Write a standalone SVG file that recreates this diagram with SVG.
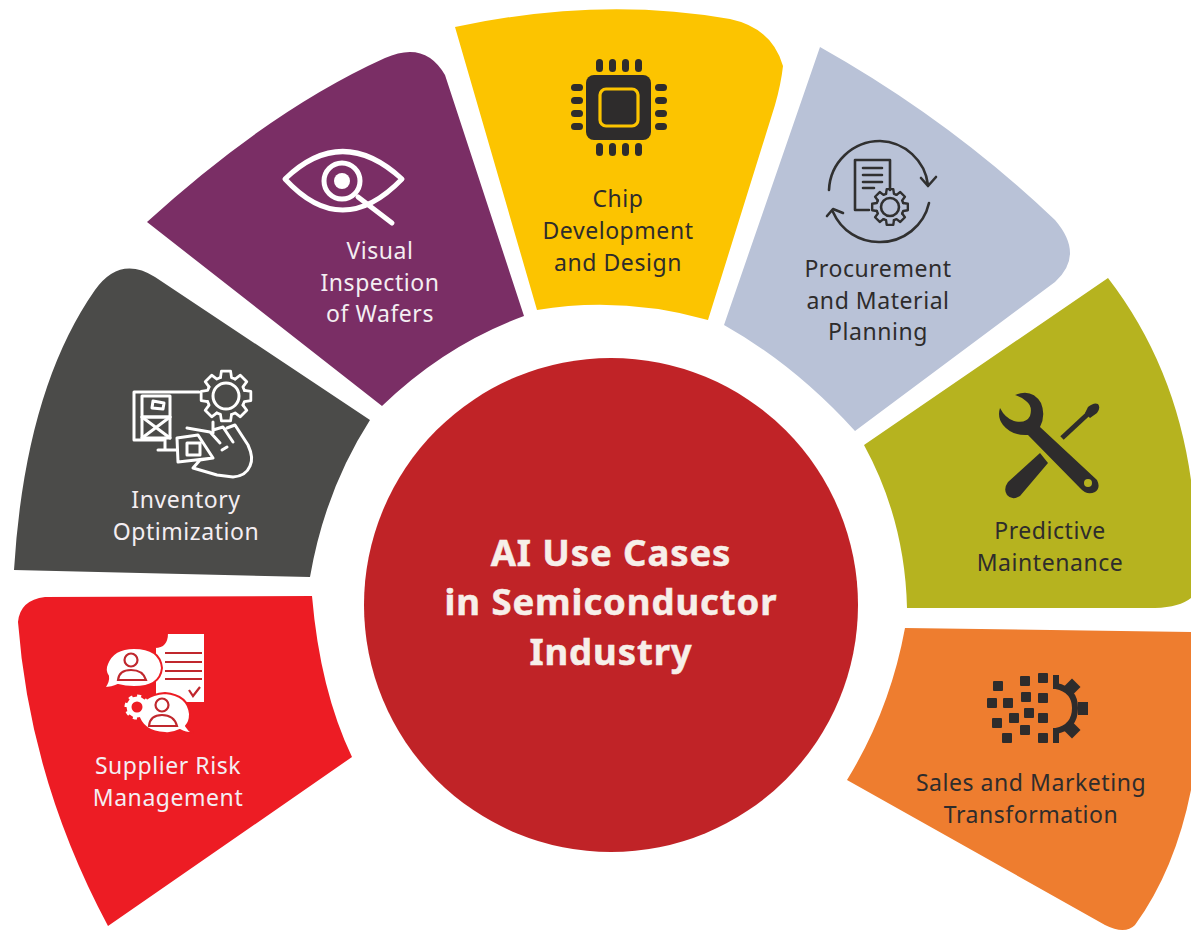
<svg xmlns="http://www.w3.org/2000/svg" width="1191" height="932" viewBox="0 0 1191 932">
<style>
.l{font-family:"Noto Sans","Liberation Sans",sans-serif;font-size:23px;letter-spacing:.55px;text-anchor:middle}
.w{fill:#f4eef2}.d{fill:#2e2c2c}
.t{font-family:"Noto Sans","Liberation Sans",sans-serif;font-size:36.5px;font-weight:700;letter-spacing:.9px;fill:#f7efe9;text-anchor:middle;stroke:#f7efe9;stroke-width:.5}
.sw{fill:none;stroke:#fff;stroke-width:5;stroke-linecap:round;stroke-linejoin:round}
.si{fill:none;stroke:#fff;stroke-width:3;stroke-linecap:round;stroke-linejoin:round}
.sd{fill:none;stroke:#303030;stroke-width:2.6;stroke-linecap:round;stroke-linejoin:round}
</style>
<defs>
<path id="tooth" d="M-6 -20L-5 -27H5L6 -20L9.9 -18.4"/>
<g id="cog8"><use href="#tooth"/><use href="#tooth" transform="rotate(45)"/><use href="#tooth" transform="rotate(90)"/><use href="#tooth" transform="rotate(135)"/><use href="#tooth" transform="rotate(180)"/><use href="#tooth" transform="rotate(225)"/><use href="#tooth" transform="rotate(270)"/><use href="#tooth" transform="rotate(315)"/></g>
</defs>
<rect width="1191" height="932" fill="#fff"/>
<g id="node-chip">
<path d="M455 27Q600 -4 730 19Q772 28 783 66Q781 84 775 105L708 320Q622 296 537 310Z" fill="#fcc400"/>
<g class="d"><rect x="586" y="75" width="65" height="65" rx="8"/>
<rect x="596" y="59" width="7" height="13" rx="3.5"/><rect x="609" y="59" width="7" height="13" rx="3.5"/><rect x="622" y="59" width="7" height="13" rx="3.5"/><rect x="635" y="59" width="7" height="13" rx="3.5"/>
<rect x="596" y="143" width="7" height="13" rx="3.5"/><rect x="609" y="143" width="7" height="13" rx="3.5"/><rect x="622" y="143" width="7" height="13" rx="3.5"/><rect x="635" y="143" width="7" height="13" rx="3.5"/>
<rect x="571" y="84" width="12" height="7" rx="3.5"/><rect x="571" y="97" width="12" height="7" rx="3.5"/><rect x="571" y="110" width="12" height="7" rx="3.5"/><rect x="571" y="123" width="12" height="7" rx="3.5"/>
<rect x="655" y="84" width="12" height="7" rx="3.5"/><rect x="655" y="97" width="12" height="7" rx="3.5"/><rect x="655" y="110" width="12" height="7" rx="3.5"/><rect x="655" y="123" width="12" height="7" rx="3.5"/></g>
<rect x="600" y="89" width="38" height="37" rx="6" fill="#2e2c2c" stroke="#fcc400" stroke-width="3.2"/>
<text class="l d" x="618" y="207">Chip</text><text class="l d" x="618" y="239">Development</text><text class="l d" x="618" y="271">and Design</text>
</g>
<g id="node-visual">
<path d="M147 222Q270 110 385 58Q425 40 445 75L524 316Q445 345 382 406Z" fill="#7a2e65"/>
<path class="sw" d="M285 179Q342 124 402 179Q342 241 285 179Z"/><circle class="sw" cx="342" cy="181" r="18"/><circle cx="342" cy="181" r="8" fill="#fff"/><path class="sw" d="M358 197L392 223"/>
<text class="l w" x="380" y="259">Visual</text><text class="l w" x="380" y="291">Inspection</text><text class="l w" x="380" y="322">of Wafers</text>
</g>
<g id="node-inventory">
<path d="M14 570Q25 390 95 290Q120 255 155 277L370 420Q325 490 310 577Z" fill="#4b4b49"/>
<g class="si"><path d="M199 392H134V440H163"/><rect x="142" y="396" width="28" height="21"/><path d="M153 401L164 403L163 409L152 408Z"/><rect x="142" y="417" width="28" height="21"/><path d="M142 417L170 438M170 417L142 438"/>
<circle cx="226" cy="396" r="13"/><use href="#cog8" transform="translate(226 396) scale(.92)"/>
<path d="M213 422V433M158 450H177M165 438V450M177 438L198 435L213 458L178 462ZM187 443H200V455H187ZM187 428L210 432L220 443M213 430L223 427L233 442M227 428L235 425L248 445Q254 458 250 466Q246 476 233 477L217 475L193 468L200 460L213 458M222 450L227 447"/></g>
<text class="l w" x="186" y="508">Inventory</text><text class="l w" x="186" y="540">Optimization</text>
</g>
<g id="node-supplier">
<path d="M18 622Q20 600 45 597L312 596Q320 690 352 757L108 926Q30 780 18 622Z" fill="#ed1c24"/>
<g fill="#fff" stroke="#ed1c24" stroke-width="2" stroke-linejoin="round">
<path d="M167 633H205V703H155V647Q167 647 167 633Z"/>
<path d="M134 648Q160 648 162 668Q160 687 134 687Q125 687 118 685Q112 688 104 688Q109 682 108 676Q104 670 107 664Q113 648 134 648Z"/>
<path d="M165 693Q188 695 190 714Q190 722 186 726Q189 731 193 733Q185 733 180 730Q172 734 165 733Q142 732 138 714Q140 695 165 693Z"/></g>
<g fill="none" stroke="#c0272d" stroke-width="2.2"><path d="M165 653H202M165 662H202M165 671H202M165 679H202M189 690L193 696L200 687"/>
<circle cx="131" cy="660" r="6.5"/><path d="M118 680Q119 670 131 670Q143 670 146 680Z"/><circle cx="162" cy="705" r="6.5"/><path d="M149 726Q150 715 162 715Q174 715 177 726Z"/></g>
<circle cx="137" cy="707" r="8" fill="#ed1c24" stroke="#fff" stroke-width="5"/><circle cx="137" cy="707" r="11" fill="none" stroke="#fff" stroke-width="3" stroke-dasharray="4 4.6"/>
<text class="l w" x="168" y="774">Supplier Risk</text><text class="l w" x="168" y="806">Management</text>
</g>
<g id="node-procurement">
<path d="M820 47Q950 120 1055 220Q1085 255 1055 282L855 431Q795 365 724 325Z" fill="#b9c2d7"/>
<g class="sd"><path d="M829 190A51 51 0 0 1 880 141A50 50 0 0 1 928 185M921 178L928 186L936 177M929 203A50 50 0 0 1 880 242A50 50 0 0 1 833 212M827 216L833 209L843 213"/>
<path d="M890 190V160H855V210H869M863 168H882M863 175H882M863 182H882M863 188H874"/><circle cx="890" cy="207" r="9"/><use href="#cog8" transform="translate(890 207) scale(.66)" stroke-width="3.6"/></g>
<text class="l d" x="878" y="277">Procurement</text><text class="l d" x="878" y="309">and Material</text><text class="l d" x="878" y="340">Planning</text>
</g>
<g id="node-predictive">
<path d="M864 445L1108 278Q1175 365 1191 480V598Q1180 607 1155 608L907 608Q905 520 864 445Z" fill="#b6b31f"/>
<path d="M1062 438L1090 412" fill="none" stroke="#2e2c2c" stroke-width="5"/>
<path class="d" d="M1088 407Q1094 402 1098 404Q1101 408 1097 413L1090 418L1085 413ZM1040 453L1048 463L1020 496Q1012 501 1007 495Q1003 489 1008 482Z"/>
<path class="d" d="M1015 395Q1032 388 1041 403Q1046 415 1040 427L1097 480Q1101 488 1095 492Q1087 496 1080 488L1028 435Q1012 436 1003 425Q997 417 1000 408Q1005 418 1014 421Q1026 424 1030 416Q1033 406 1026 401Q1021 397 1015 395Z"/>
<circle cx="1088" cy="483" r="4" fill="#b6b31f"/>
<text class="l d" x="1050" y="539">Predictive</text><text class="l d" x="1050" y="571">Maintenance</text>
</g>
<g id="node-sales">
<path d="M905 628L1191 632V790Q1175 870 1135 925Q1125 935 1105 925L847 780Q890 710 905 628Z" fill="#ee7d2f"/>
<g class="d"><rect x="993" y="681" width="10" height="10" rx="1"/><rect x="1020" y="676" width="10" height="10" rx="1"/><rect x="1038" y="673" width="10" height="10" rx="1"/><rect x="987" y="698" width="10" height="10" rx="1"/><rect x="1003" y="698" width="10" height="10" rx="1"/><rect x="1021" y="692" width="10" height="10" rx="1"/><rect x="1038" y="693" width="10" height="10" rx="1"/><rect x="1024" y="708" width="10" height="10" rx="1"/><rect x="1009" y="713" width="10" height="10" rx="1"/><rect x="1038" y="713" width="10" height="10" rx="1"/><rect x="992" y="718" width="10" height="10" rx="1"/><rect x="1020" y="725" width="10" height="10" rx="1"/><rect x="1002" y="733" width="10" height="10" rx="1"/><rect x="1038" y="733" width="10" height="10" rx="1"/></g>
<path d="M1056 686Q1075 690 1075 708Q1075 727 1056 731" fill="none" stroke="#2e2c2c" stroke-width="6"/>
<g class="d"><rect x="1053" y="675" width="6" height="14"/><rect x="1053" y="728" width="6" height="15"/><rect x="1078" y="702" width="10" height="13"/><rect x="-6" y="-6" width="12" height="12" transform="translate(1072 687) rotate(45)"/><rect x="-6" y="-6" width="12" height="12" transform="translate(1072 730) rotate(45)"/></g>
<text class="l d" x="1031" y="791">Sales and Marketing</text><text class="l d" x="1031" y="823">Transformation</text>
</g>
<g id="node-center">
<circle cx="611" cy="605" r="247" fill="#c02327"/>
<text class="t" x="611" y="566">AI Use Cases</text><text class="t" x="611" y="615">in Semiconductor</text><text class="t" x="611" y="665">Industry</text>
</g>
<g id="connectors"></g>
</svg>
